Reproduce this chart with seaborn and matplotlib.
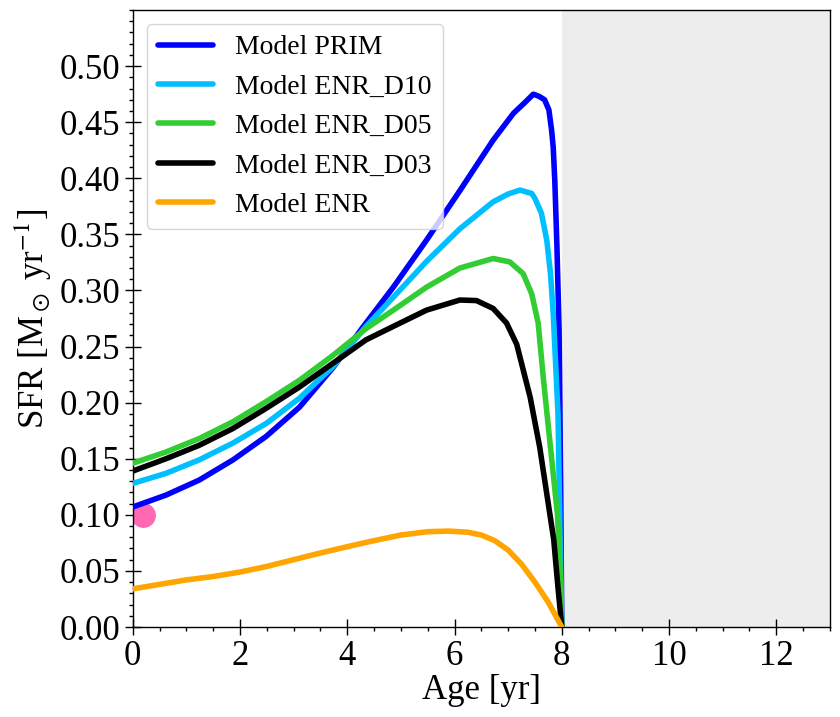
import numpy as np
import pandas as pd
import matplotlib
matplotlib.use('Agg')
import matplotlib.pyplot as plt
from matplotlib.ticker import MultipleLocator
import seaborn as sns

# --- data ---
age_prim = [0.0, 0.62, 1.24, 1.87, 2.49, 3.11, 3.73, 4.35, 4.86, 5.48, 6.1, 6.72, 7.1, 7.3, 7.47,
            7.58, 7.68, 7.76, 7.81, 7.84, 7.87, 7.91, 7.95, 7.98, 8.0]
sfr_prim = [0.107, 0.1176, 0.131, 0.149, 0.170, 0.196, 0.231, 0.271, 0.303, 0.345, 0.389, 0.434, 0.458,
            0.467, 0.475, 0.473, 0.470, 0.461, 0.443, 0.428, 0.398, 0.339, 0.265, 0.12, 0.0]

age_d10 = [0.0, 0.62, 1.24, 1.87, 2.49, 3.11, 3.73, 4.35, 4.86, 5.48, 6.1, 6.72, 7.0, 7.22, 7.44,
           7.5, 7.62, 7.72, 7.79, 7.84, 7.93, 7.97, 8.0]
sfr_d10 = [0.128, 0.137, 0.149, 0.164, 0.1815, 0.204, 0.232, 0.268, 0.294, 0.326, 0.355, 0.379, 0.386,
           0.3895, 0.3865, 0.382, 0.369, 0.345, 0.315, 0.28, 0.19, 0.078, 0.0]

age_d05 = [0.0, 0.62, 1.24, 1.87, 2.49, 3.11, 3.73, 4.35, 4.86, 5.48, 6.1, 6.72, 7.03, 7.28, 7.44,
           7.56, 7.66, 7.79, 7.92, 7.97, 8.0]
sfr_d05 = [0.146, 0.156, 0.168, 0.183, 0.201, 0.220, 0.242, 0.266, 0.2825, 0.303, 0.320, 0.3285, 0.3255,
           0.315, 0.297, 0.271, 0.22, 0.16, 0.10, 0.05, 0.0]

age_d03 = [0.0, 0.62, 1.24, 1.87, 2.49, 3.11, 3.73, 4.35, 4.86, 5.48, 6.1, 6.41, 6.72, 6.97, 7.16,
           7.41, 7.59, 7.78, 7.85, 7.93, 8.0]
sfr_d03 = [0.139, 0.150, 0.162, 0.177, 0.195, 0.214, 0.235, 0.256, 0.268, 0.2825, 0.2915, 0.291, 0.284,
           0.271, 0.252, 0.205, 0.16, 0.10, 0.078, 0.035, 0.0]

age_enr = [0.0, 0.5, 1.0, 1.5, 2.0, 2.5, 3.0, 3.5, 4.0, 4.5, 5.0, 5.5, 5.9, 6.25, 6.5, 6.75, 7.0,
           7.25, 7.5, 7.75, 8.0]
sfr_enr = [0.034, 0.038, 0.042, 0.045, 0.049, 0.054, 0.060, 0.066, 0.0716, 0.077, 0.082, 0.085, 0.0855,
           0.0845, 0.082, 0.077, 0.0686, 0.056, 0.040, 0.022, 0.0]

obs_age = [0.2]
obs_sfr = [0.1]

models = ['Model PRIM', 'Model ENR_D10', 'Model ENR_D05', 'Model ENR_D03', 'Model ENR']
colors = ['#0000ff', '#00bfff', '#32cd32', '#000000', '#ffa500']
series = [(age_prim, sfr_prim), (age_d10, sfr_d10), (age_d05, sfr_d05),
          (age_d03, sfr_d03), (age_enr, sfr_enr)]

# --- style ---
sns.set_style('ticks')
plt.rcParams['font.family'] = ['Liberation Serif', 'DejaVu Serif']
plt.rcParams['mathtext.fontset'] = 'stix'
plt.rcParams['text.color'] = 'black'
plt.rcParams['axes.labelcolor'] = 'black'
plt.rcParams['xtick.color'] = 'black'
plt.rcParams['ytick.color'] = 'black'

fig = plt.figure(figsize=(8.4, 7.17), dpi=100)
ax = fig.add_axes([0.158, 0.1255, 0.830, 0.8605])

ax.axvspan(8, 13, color='lightgray', alpha=0.4, lw=0, zorder=0)

for name, col, (a, s) in zip(models, colors, series):
    df = pd.DataFrame({'age': a, 'sfr': s})
    sns.lineplot(data=df, x='age', y='sfr', color=col, lw=4, label=name, ax=ax, zorder=3)

sns.scatterplot(x=obs_age, y=obs_sfr, s=320, color='hotpink', linewidth=0, ax=ax, zorder=2)

ax.set_xlim(0, 13)
ax.set_ylim(0, 0.55)
ax.set_xticks(np.arange(0, 13, 2))
ax.set_yticks(np.arange(0, 0.51, 0.05))
ax.set_yticklabels([f'{v:.2f}' for v in np.arange(0, 0.51, 0.05)])
ax.xaxis.set_minor_locator(MultipleLocator(0.5))
ax.yaxis.set_minor_locator(MultipleLocator(0.01))
ax.tick_params(which='major', direction='inout', length=11, width=1, labelsize=25, colors='black')
ax.tick_params(which='minor', direction='out', length=3, width=1, colors='black')
for sp in ax.spines.values():
    sp.set_linewidth(1)
    sp.set_color('black')

ax.set_xlabel('Age [yr]', fontsize=25, labelpad=1)
ax.set_ylabel(r'SFR [M$_\odot$ yr$^{-1}$]', fontsize=25)

ax.legend(loc='upper left', fontsize=20, frameon=True)

fig.savefig('out.png', dpi=100)
